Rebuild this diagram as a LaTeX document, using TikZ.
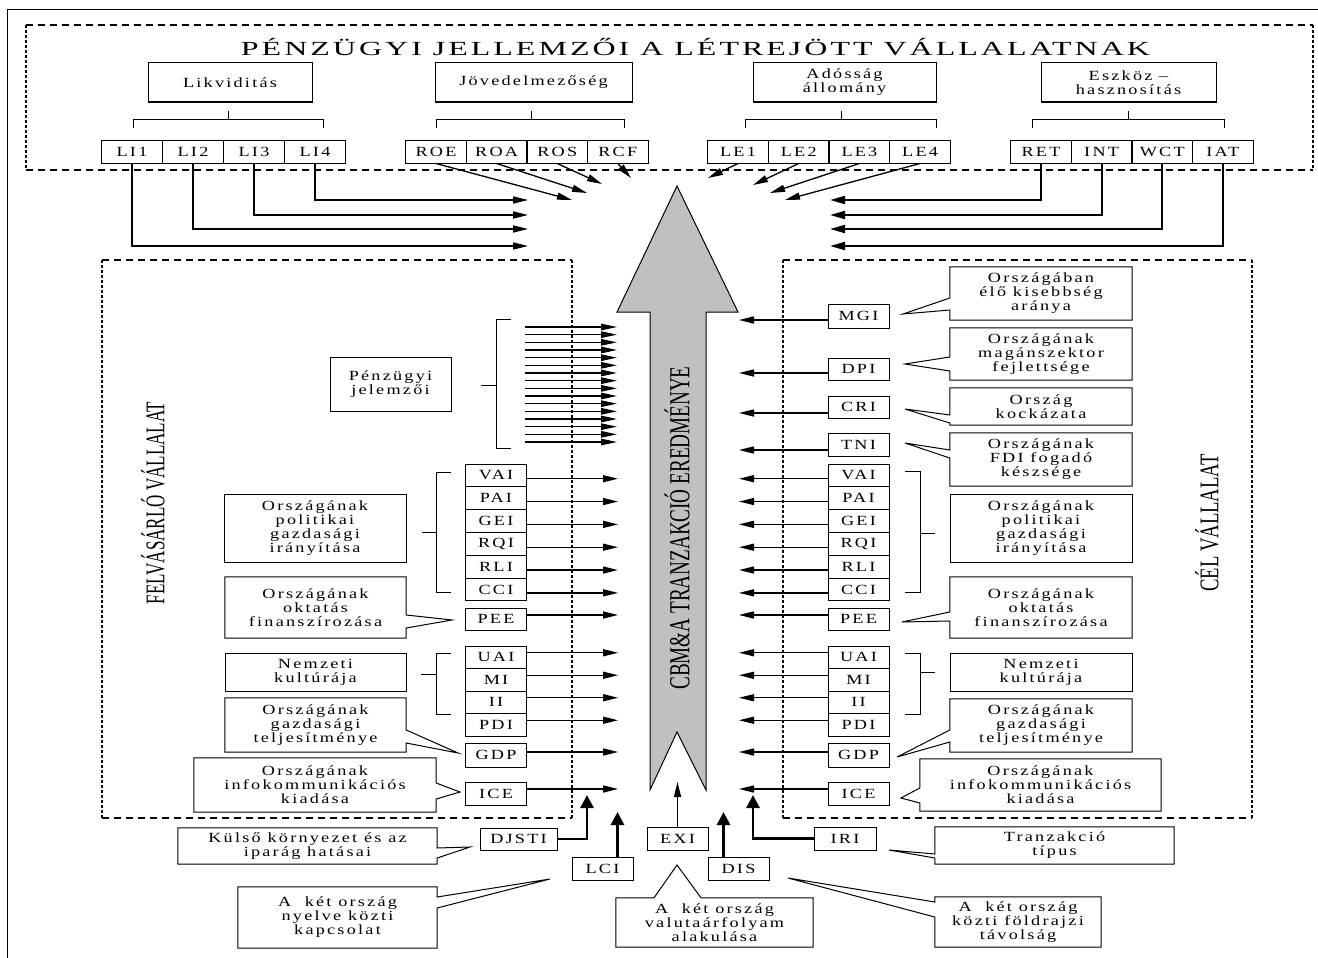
\documentclass[tikz,border=0pt]{standalone}
\usepackage{fontspec}
\usepackage{graphicx}
\setmainfont[FakeStretch=1.3,LetterSpace=16]{Liberation Serif}
\newfontfamily\titlefont[FakeStretch=1.6,LetterSpace=15]{Liberation Serif}
\newfontfamily\bigfont{Liberation Serif}
\usetikzlibrary{arrows.meta,calc}
\definecolor{arrowgray}{RGB}{192,192,192}
\newcommand\wedgeR[4]{\draw[boxline] (#1.north west) -- (#1.north east) -- (#1.east |- 0,#2) -- #3 -- (#1.east |- 0,#4) -- (#1.south east) -- (#1.south west) -- cycle;}
\newcommand\wedgeL[4]{\draw[boxline] (#1.north west) -- (#1.north east) -- (#1.south east) -- (#1.south west) -- (#1.west |- 0,#4) -- #3 -- (#1.west |- 0,#2) -- cycle;}
\newcommand\wedgeT[4]{\draw[boxline] (#1.north west) -- (#1.north -| #2,0) -- #3 -- (#1.north -| #4,0) -- (#1.north east) -- (#1.south east) -- (#1.south west) -- cycle;}
\begin{document}
\begin{tikzpicture}[x=1pt,y=-1pt,
  boxline/.style={line width=1pt},
  box/.style={draw, boxline, inner sep=0pt, align=center, font=\fontsize{14}{14}\selectfont},
  tbox/.style={inner sep=0pt, align=center, font=\fontsize{14}{14}\selectfont},
  cbox/.style={box, minimum width=61pt, minimum height=23pt},
  hdash/.style={line width=1.3pt, dash pattern=on 7pt off 5pt},
  vdash/.style={line width=1.3pt, dash pattern=on 3pt off 2pt},
  arr/.style={line width=1.3pt, -{Triangle[length=15pt,width=7pt]}},
  arrR/.style={line width=2pt, -{Triangle[length=15pt,width=8pt]}},
  arrS/.style={line width=1.2pt, -{Triangle[length=16pt,width=6.5pt]}},
  arrB/.style={line width=2.8pt, -{Triangle[length=13pt,width=13pt]}}
]
\useasboundingbox (0,0) rectangle (1318,958);
% outer frame
\draw[line width=1pt] (7,958) -- (7,10) -- (1318,10);
% dashed frames
\draw[hdash] (26,25) -- (1313,25) (26,170) -- (1313,170);
\draw[vdash] (26,25) -- (26,170) (1313,25) -- (1313,170);
\draw[hdash] (102,260) -- (572,260) (102,818) -- (572,818);
\draw[vdash] (102,260) -- (102,818) (572,260) -- (572,818);
\draw[hdash] (783,260) -- (1252,260) (783,818) -- (1252,818);
\draw[vdash] (783,260) -- (783,818) (1252,260) -- (1252,818);
% title
\node[anchor=base] (title) at (695.5,56) {\titlefont\fontsize{20}{22}\selectfont PÉNZÜGYI JELLEMZŐI A LÉTREJÖTT VÁLLALATNAK};
% top group boxes
\node[box, minimum width=164pt, minimum height=39pt] (lik) at (230,82.5) {Likviditás};
\node[box, minimum width=197pt, minimum height=39pt] (jov) at (533.5,82.5) {Jövedelmezőség};
\node[box, minimum width=183pt, minimum height=39pt] (ados) at (844.5,82.5) {Adósság\\állomány};
\node[box, minimum width=175pt, minimum height=39pt] (eszk) at (1128.5,82.5) {Eszköz –\\hasznosítás};
% brackets
\draw[boxline] ($(lik.south)+(-2,8)$) -- ++(0,9) (133,128) -- (133,119) -- (323,119) -- (323,128);
\draw[boxline] ($(jov.south)+(-2,8)$) -- ++(0,9) (436,128) -- (436,119) -- (624,119) -- (624,128);
\draw[boxline] ($(ados.south)+(-3,8)$) -- ++(0,9) (745,128) -- (745,119) -- (936,119) -- (936,128);
\draw[boxline] ($(eszk.south)+(0,8)$) -- ++(0,9) (1032,128) -- (1032,119) -- (1224,119) -- (1224,128);
% code boxes top
\foreach \n/\t [count=\i from 0] in {li1/LI1,li2/LI2,li3/LI3,li4/LI4}
  \node[cbox] (\n) at ({132+61*\i},151.5) {\t};
\foreach \n/\t [count=\i from 0] in {roe/ROE,roa/ROA,ros/ROS,rcf/RCF}
  \node[cbox] (\n) at ({436+60.6*\i},151.5) {\t};
\foreach \n/\t [count=\i from 0] in {le1/LE1,le2/LE2,le3/LE3,le4/LE4}
  \node[cbox] (\n) at ({738+60.7*\i},151.5) {\t};
\foreach \n/\t [count=\i from 0] in {ret/RET,int/INT,wct/WCT,iat/IAT}
  \node[cbox] (\n) at ({1041+60.6*\i},151.5) {\t};
% arrow ends
\coordinate (e1) at (528,246); \coordinate (e2) at (528,229);
\coordinate (e3) at (528,215); \coordinate (e4) at (528,200);
\coordinate (f1) at (830,200); \coordinate (f2) at (830,215);
\coordinate (f3) at (830,229); \coordinate (f4) at (830,246);
\draw[arr] (li1.south) |- (e1);
\draw[arr] (li2.south) |- (e2);
\draw[arr] (li3.south) |- (e3);
\draw[arr] (li4.south) |- (e4);
\draw[arrR] (ret.south) |- (f1);
\draw[arrR] (int.south) |- (f2);
\draw[arrR] (wct.south) |- (f3);
\draw[arrR] (iat.south) |- (f4);
\coordinate (g1) at (572,200); \coordinate (g2) at (587,193);
\coordinate (g3) at (602,184); \coordinate (g4) at (631,178);
\draw[arr] (roe.south) -- (g1);
\draw[arr] (roa.south) -- (g2);
\draw[arr] (ros.south) -- (g3);
\draw[arr] (rcf.south) -- (g4);
\coordinate (h1) at (708,178); \coordinate (h2) at (753,185);
\coordinate (h3) at (770,193); \coordinate (h4) at (785,200);
\draw[arr] (le1.south) -- (h1);
\draw[arr] (le2.south) -- (h2);
\draw[arr] (le3.south) -- (h3);
\draw[arr] (le4.south) -- (h4);
% central arrow
\draw[line width=1pt, fill=arrowgray] (677,186) -- (738,312) -- (706,312) -- (706,790) -- (677,732) -- (650,790) -- (650,312) -- (617,312) -- cycle;
\node[rotate=90, inner sep=0pt] (cbm) at (677,528) {\bigfont\fontsize{29}{29}\selectfont\scalebox{0.66}[1]{CBM\&A TRANZAKCIÓ EREDMÉNYE}};
\node[rotate=90, inner sep=0pt] (felv) at (153,503) {\bigfont\fontsize{27}{27}\selectfont\scalebox{0.63}[1]{FELVÁSÁRLÓ VÁLLALAT}};
\node[rotate=90, inner sep=0pt] (cel) at (1207,523) {\bigfont\fontsize{27}{27}\selectfont\scalebox{0.69}[1]{CÉL VÁLLALAT}};
% left: financial
\node[box, minimum width=121pt, minimum height=54pt] (penz) at (390.5,384) {Pénzügyi\\jelemzői};
\draw[boxline] (511,319) -- (496,319) -- (496,448) -- (511,448) (481,385) -- (496,385);
\foreach \k in {0,...,15}
  \draw[arrS] (525,{327+7.667*\k}) -- (617,{327+7.667*\k});
% left stacks
\foreach \n/\t [count=\i from 0] in {lvai/VAI,lpai/PAI,lgei/GEI,lrqi/RQI,lrli/RLI,lcci/CCI}
  \node[cbox, minimum height=22.83pt] (\n) at (496,{464+22.83*(\i+0.5)}) {\t};
\foreach \n in {lvai,lpai,lgei,lrqi,lrli,lcci}
  \draw[arr] ($(\n.east)+(0,3.3)$) -- ++(91,0);
\node[cbox, minimum height=22pt] (lpee) at (496,619) {PEE};
\draw[arr] ($(lpee.east)+(0,-4)$) -- ++(91,0);
\foreach \n/\t [count=\i from 0] in {luai/UAI,lmi/MI,lii/II,lpdi/PDI}
  \node[cbox, minimum height=22.5pt] (\n) at (496,{646+22.5*(\i+0.5)}) {\t};
\foreach \n in {luai,lmi,lii,lpdi}
  \draw[arr] ($(\n.east)+(0,-4.5)$) -- ++(91,0);
\node[cbox, minimum height=24pt] (lgdp) at (496,755) {GDP};
\draw[arr] ($(lgdp.east)+(0,-3)$) -- ++(91,0);
\node[cbox] (lice) at (496,793.5) {ICE};
\draw[arr] ($(lice.east)+(0,-4.5)$) -- ++(91,0);
% left brackets
\draw[boxline] (451,472) -- (436,472) -- (436,592) -- (451,592) (422,532) -- (436,532);
\draw[boxline] (451,653) -- (436,653) -- (436,714) -- (451,714) (421,674) -- (436,674);
% left callouts
\node[box, minimum width=182pt, minimum height=68pt] (lpol) at (315,528) {Országának\\politikai\\gazdasági\\irányítása};
\node[tbox, minimum width=181pt, minimum height=61pt] (lokt) at (315.5,607.5) {Országának\\oktatás\\finanszírozása};
\wedgeR{lokt}{615}{(452,620)}{628}
\node[box, minimum width=181pt, minimum height=38pt] (lnem) at (315.5,672) {Nemzeti\\kultúrája};
\node[tbox, minimum width=181pt, minimum height=54pt] (lgaz) at (315.5,725) {Országának\\gazdasági\\teljesítménye};
\wedgeR{lgaz}{730}{(458,753)}{743}
\node[tbox, minimum width=242pt, minimum height=54pt] (linf) at (315,785) {Országának\\infokommunikációs\\kiadása};
\wedgeR{linf}{783}{(460,792)}{799}
% right code boxes
\node[cbox, minimum height=24pt] (rmgi) at (858.5,316) {MGI};
\node[cbox, minimum height=22pt] (rdpi) at (858.5,369) {DPI};
\node[cbox, minimum height=22pt] (rcri) at (858.5,407) {CRI};
\node[cbox, minimum height=23pt] (rtni) at (858.5,444.5) {TNI};
\draw[arr] ($(rmgi.west)+(0,4)$) -- ++(-88.5,0);
\draw[arr] ($(rdpi.west)+(0,4)$) -- ++(-88.5,0);
\draw[arr] ($(rcri.west)+(0,6)$) -- ++(-88.5,0);
\draw[arr] ($(rtni.west)+(0,5.5)$) -- ++(-88.5,0);
\foreach \n/\t [count=\i from 0] in {rvai/VAI,rpai/PAI,rgei/GEI,rrqi/RQI,rrli/RLI,rcci/CCI}
  \node[cbox, minimum height=22.83pt] (\n) at (858.5,{464+22.83*(\i+0.5)}) {\t};
\foreach \n in {rvai,rpai,rgei,rrqi,rrli,rcci}
  \draw[arr] ($(\n.west)+(0,3.3)$) -- ++(-88.5,0);
\node[cbox, minimum height=22pt] (rpee) at (858.5,619) {PEE};
\draw[arr] ($(rpee.west)+(0,-4)$) -- ++(-88.5,0);
\foreach \n/\t [count=\i from 0] in {ruai/UAI,rmi/MI,rii/II,rpdi/PDI}
  \node[cbox, minimum height=22.5pt] (\n) at (858.5,{646+22.5*(\i+0.5)}) {\t};
\foreach \n in {ruai,rmi,rii,rpdi}
  \draw[arr] ($(\n.west)+(0,-4.5)$) -- ++(-88.5,0);
\node[cbox, minimum height=24pt] (rgdp) at (858.5,755) {GDP};
\draw[arr] ($(rgdp.west)+(0,-3)$) -- ++(-88.5,0);
\node[cbox] (rice) at (858.5,793.5) {ICE};
\draw[arr] ($(rice.west)+(0,-4.5)$) -- ++(-88.5,0);
% right brackets
\draw[boxline] (905,471) -- (920,471) -- (920,592) -- (905,592) (920,533) -- (935,533);
\draw[boxline] (905,653) -- (920,653) -- (920,714) -- (905,714) (920,672) -- (935,672);
% right callouts
\node[tbox, minimum width=182pt, minimum height=53pt] (rkis) at (1041,293.5) {Országában\\élő kisebbség\\aránya};
\wedgeL{rkis}{298}{(903,314)}{310}
\node[tbox, minimum width=182pt, minimum height=52pt] (rmag) at (1041,354) {Országának\\magánszektor\\fejlettsége};
\wedgeL{rmag}{357}{(905,364)}{371}
\node[tbox, minimum width=182pt, minimum height=37pt] (rkoc) at (1041,406.5) {Ország\\kockázata};
\wedgeL{rkoc}{415}{(905,409)}{423}
\node[tbox, minimum width=182pt, minimum height=53pt] (rfdi) at (1041,459.5) {Országának\\FDI fogadó\\készsége};
\wedgeL{rfdi}{450}{(905,443)}{458}
\node[box, minimum width=182pt, minimum height=68pt] (rpol) at (1041,528) {Országának\\politikai\\gazdasági\\irányítása};
\node[tbox, minimum width=182pt, minimum height=61pt] (rokt) at (1041,607.5) {Országának\\oktatás\\finanszírozása};
\wedgeL{rokt}{612}{(902,622)}{621}
\node[box, minimum width=182pt, minimum height=38pt] (rnem) at (1041,672) {Nemzeti\\kultúrája};
\node[tbox, minimum width=182pt, minimum height=53pt] (rgaz) at (1041,725.5) {Országának\\gazdasági\\teljesítménye};
\wedgeL{rgaz}{730}{(897,757)}{742}
\node[tbox, minimum width=241pt, minimum height=52pt] (rinf) at (1040.5,785) {Országának\\infokommunikációs\\kiadása};
\wedgeL{rinf}{788}{(901,798)}{803}
% bottom codes
\node[cbox, minimum width=77pt, minimum height=22pt] (djsti) at (518.5,839) {DJSTI};
\node[cbox] (lci) at (602.5,868.5) {LCI};
\node[cbox] (exi) at (677.5,838.5) {EXI};
\node[cbox] (dis) at (738.5,868.5) {DIS};
\node[cbox, minimum width=62pt] (iri) at (845,838.5) {IRI};
\coordinate (k1) at (587,795); \coordinate (k2) at (617.5,812);
\coordinate (k3) at (677.5,782); \coordinate (k4) at (723.5,812);
\coordinate (k5) at (753,795);
\draw[arrB] (djsti.east) -| (k1);
\draw[arrB] ($(lci.north)+(15,0)$) -- (k2);
\draw[arr] (exi.north) -- (k3);
\draw[arrB] ($(dis.north)+(-15,0)$) -- (k4);
\draw[arrB] (iri.west) -| (k5);
% bottom callouts
\node[tbox, minimum width=259pt, minimum height=36pt] (kul) at (307.5,846) {Külső környezet és az\\iparág hatásai};
\wedgeR{kul}{848}{(470,847)}{858}
\node[tbox, minimum width=199pt, minimum height=61pt] (nyel) at (337.5,917.5) {A\ \ két ország\\nyelve közti\\kapcsolat};
\wedgeR{nyel}{897}{(550,879)}{908}
\node[tbox, minimum width=197pt, minimum height=49pt] (val) at (714.5,922.5) {A\ \ két ország\\valutaárfolyam\\alakulása};
\wedgeT{val}{654}{(677,865)}{701}
\node[tbox, minimum width=166pt, minimum height=50pt] (fold) at (1018,922) {A\ \ két ország\\közti földrajzi\\távolság};
\wedgeL{fold}{902}{(788,878)}{917}
\node[tbox, minimum width=239pt, minimum height=37pt] (tran) at (1054.5,845.5) {Tranzakció\\típus};
\wedgeL{tran}{854}{(889,850)}{858}
\end{tikzpicture}
\end{document}
